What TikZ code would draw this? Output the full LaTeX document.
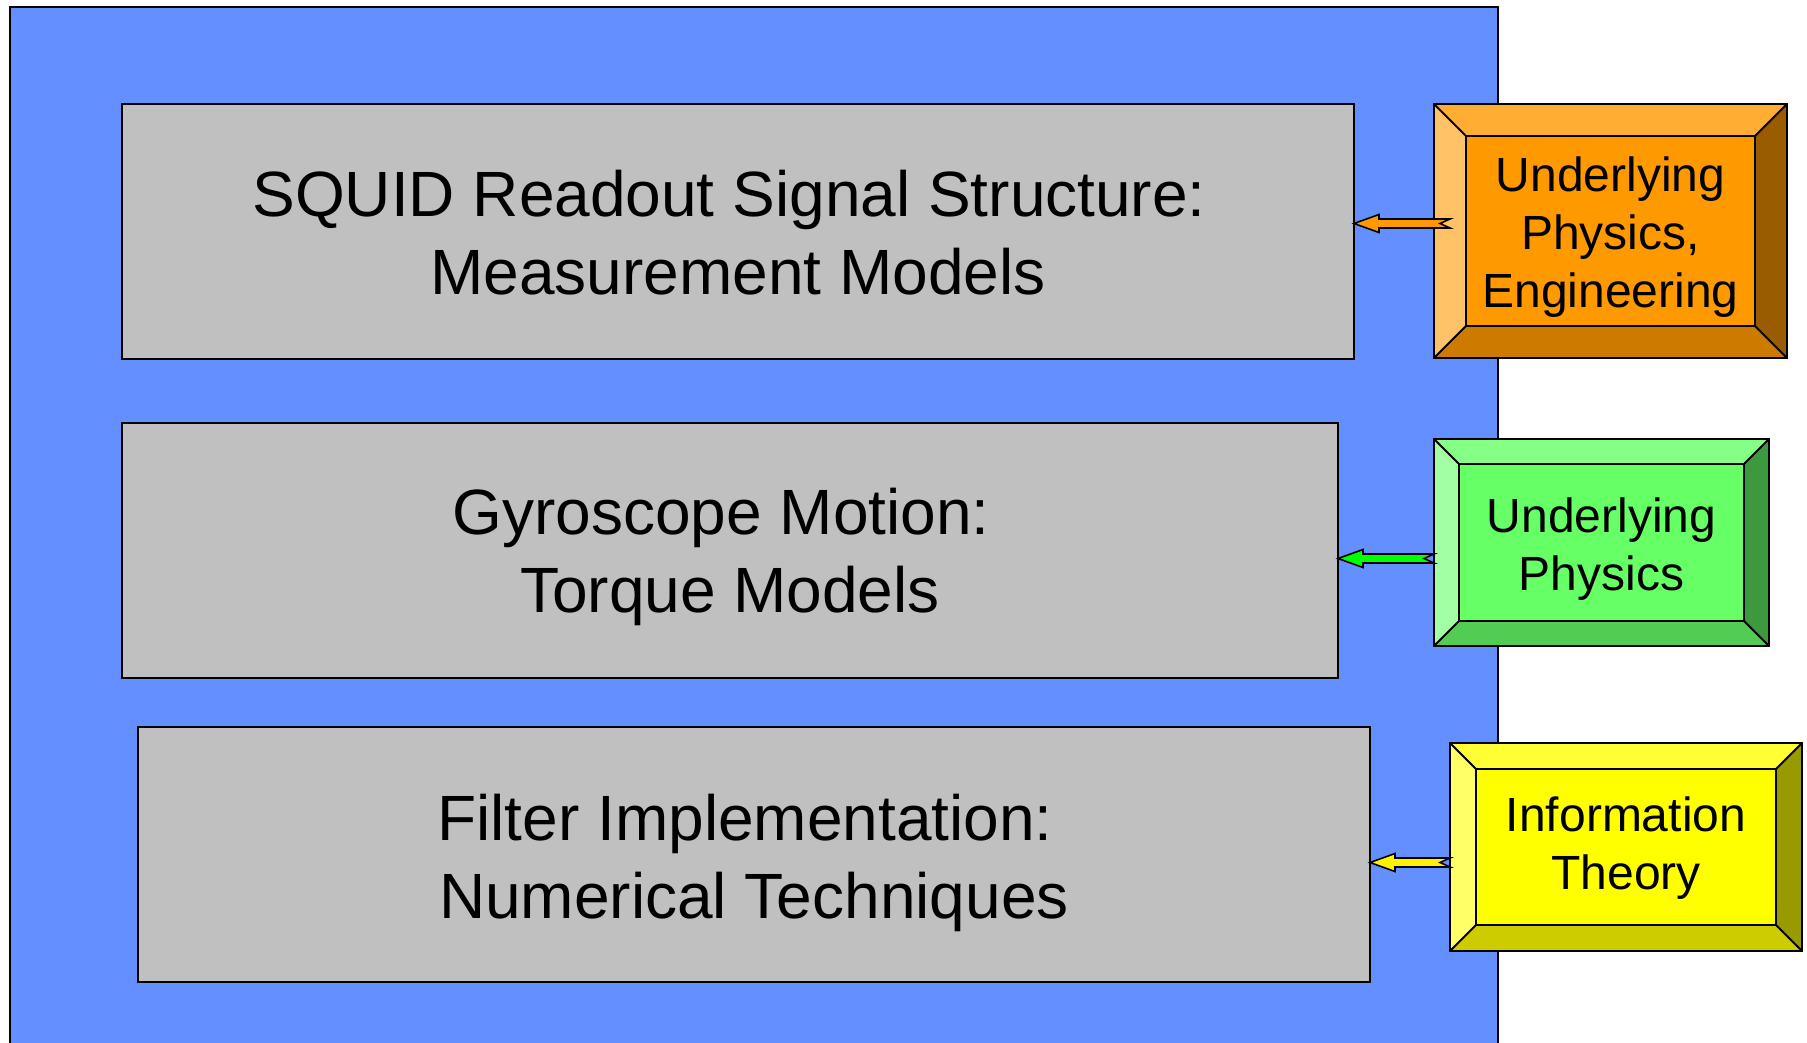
\documentclass[tikz,border=0pt]{standalone}
\usepackage{fontspec}
\setmainfont{Liberation Sans}
\usetikzlibrary{calc}
\definecolor{bluebg}{RGB}{100,143,255}
\definecolor{graybox}{RGB}{192,192,192}
\definecolor{orFront}{HTML}{FF9900}
\definecolor{orTop}{HTML}{FFAD33}
\definecolor{orLeft}{HTML}{FFC266}
\definecolor{orBot}{HTML}{CC7A00}
\definecolor{orRight}{HTML}{995C00}
\definecolor{grFront}{HTML}{66FF66}
\definecolor{grTop}{HTML}{85FF85}
\definecolor{grLeft}{HTML}{A3FFA3}
\definecolor{grBot}{HTML}{52CC52}
\definecolor{grRight}{HTML}{3D993D}
\definecolor{yeFront}{HTML}{FFFF00}
\definecolor{yeTop}{HTML}{FFFF33}
\definecolor{yeLeft}{HTML}{FFFF66}
\definecolor{yeBot}{HTML}{CCCC00}
\definecolor{yeRight}{HTML}{999900}
\tikzset{
  graystage/.style={draw=black, line width=2pt, fill=graybox, inner sep=0pt, outer sep=0pt,
    minimum width=1232pt, minimum height=255pt, anchor=north west},
  bigtext/.style={inner sep=0pt, align=center, font=\fontsize{64}{78}\selectfont},
  smalltext/.style={inner sep=0pt, align=center, font=\fontsize{48}{58}\selectfont},
  bevelface/.style={draw=black, line width=2pt, inner sep=0pt, outer sep=0pt, anchor=north west},
  bevelline/.style={draw=black, line width=2pt, line join=miter},
  notcharrow/.style={draw=black, line width=1.6pt, line join=miter},
}
% #1 name #2 x1 #3 y1 #4 x2 #5 y2 #6 bevel #7 colour prefix #8 text #9 text shift
\newcommand\bevelbox[9]{%
  \fill[#7Top] (#2,#3) -- (#4,#3) -- (#4-#6,#3+#6) -- (#2+#6,#3+#6) -- cycle;
  \fill[#7Left] (#2,#3) -- (#2+#6,#3+#6) -- (#2+#6,#5-#6) -- (#2,#5) -- cycle;
  \fill[#7Bot] (#2,#5) -- (#2+#6,#5-#6) -- (#4-#6,#5-#6) -- (#4,#5) -- cycle;
  \fill[#7Right] (#4,#3) -- (#4,#5) -- (#4-#6,#5-#6) -- (#4-#6,#3+#6) -- cycle;
  \node[inner sep=0pt, outer sep=0pt, anchor=north west,
    minimum width={(#4)-(#2)}, minimum height={(#5)-(#3)}] (#1) at (#2,#3) {};
  \node[bevelface, fill=#7Front, minimum width={(#4)-(#2)-2*(#6)},
    minimum height={(#5)-(#3)-2*(#6)}] (#1f) at (#2+#6,#3+#6) {};
  \node[smalltext] (#1t) at ($(#1f.center)+(0,#9)$) {#8};
  \draw[bevelline] (#2,#3) -- (#2+#6,#3+#6) (#4,#3) -- (#4-#6,#3+#6)
    (#2,#5) -- (#2+#6,#5-#6) (#4,#5) -- (#4-#6,#5-#6);
  \draw[bevelline] (#1.north west) rectangle (#1.south east);
}
% #1 tip, #2 tail, #3 colour
\newcommand\notched[3]{%
  \path[notcharrow, fill=#3] let \p1=(#1), \p2=(#2) in
    (\x1,\y1) -- (\x1+25pt,\y1+9pt) -- (\x1+25pt,\y1+4.5pt) -- (\x2,\y1+4.5pt)
    -- (\x2-10pt,\y1) -- (\x2,\y1-4.5pt) -- (\x1+25pt,\y1-4.5pt) -- (\x1+25pt,\y1-9pt) -- cycle;
}
\begin{document}
\begin{tikzpicture}[x=1pt,y=-1pt]
\clip (0,0) rectangle (1807,1043);
\fill[white] (0,0) rectangle (1807,1043);
\draw[line width=2.5pt, fill=bluebg] (10,7) rectangle (1498,1060);

\node[graystage] (g1) at (122,104) {};
\node[bigtext] (g1t) at ($(g1.center)+(0,1)$) {SQUID Readout Signal Structure:\kern0.278em\\Measurement Models};
\node[graystage, minimum width=1216pt] (g2) at (122,423) {};
\node[bigtext] (g2t) at ($(g2.center)+(0,6)$) {Gyroscope Motion:\kern0.278em\\Torque Models};
\node[graystage] (g3) at (138,727) {};
\node[bigtext] (g3t) at ($(g3.center)+(0,8)$) {Filter Implementation:\kern0.278em\\Numerical Techniques};

\bevelbox{b1}{1434}{104}{1787}{358}{32}{or}{Underlying\\Physics,\\Engineering}{6}
\bevelbox{b2}{1434}{439}{1769}{646}{25}{gr}{Underlying\\Physics}{7}
\bevelbox{b3}{1450}{743}{1802}{951}{26}{ye}{Information\\Theory}{1}

\coordinate (t1) at ($(g1.east)+(0,-8)$);
\coordinate (s1) at ($(b1.west)+(16,0)$);
\notched{t1}{s1}{orFront}
\coordinate (t2) at ($(g2.east)+(0,8)$);
\coordinate (s2) at (b2.west);
\notched{t2}{s2}{green}
\coordinate (t3) at ($(g3.east)+(0,8)$);
\coordinate (s3) at (b3.west);
\notched{t3}{s3}{yellow}
\end{tikzpicture}
\end{document}
